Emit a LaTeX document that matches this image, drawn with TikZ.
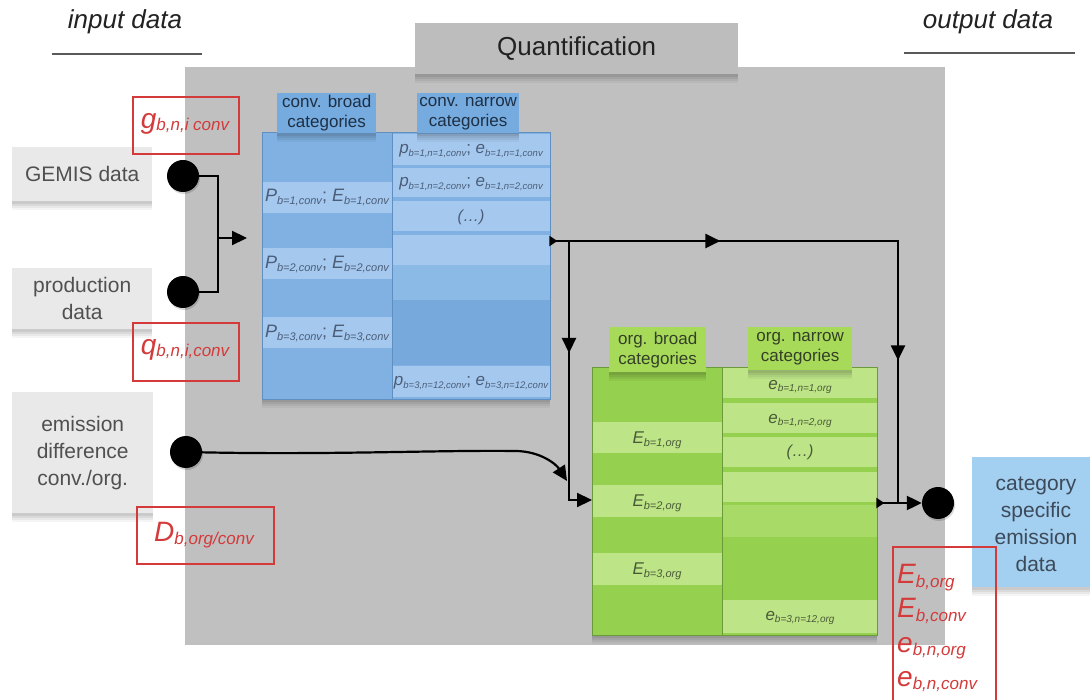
\documentclass[tikz,border=0pt]{standalone}
\usepackage{fontspec}
\setmainfont{Liberation Sans}
\usetikzlibrary{arrows.meta,decorations.markings,calc}

\definecolor{bggray}{HTML}{C0C0C0}
\definecolor{qgray}{HTML}{BDBDBD}
\definecolor{notegray}{HTML}{E9E9E9}
\definecolor{notetext}{HTML}{505050}
\definecolor{redl}{HTML}{D43A3A}
\definecolor{bluebase}{HTML}{80B1E2}
\definecolor{bluelight}{HTML}{A5C8EE}
\definecolor{bluemid}{HTML}{8CBAE6}
\definecolor{bluedark}{HTML}{78A9DC}
\definecolor{bluehead}{HTML}{75ABDF}
\definecolor{blueline}{HTML}{5F8FC0}
\definecolor{bluetext}{HTML}{4B5D78}
\definecolor{headtext}{HTML}{1F2F44}
\definecolor{greenbase}{HTML}{95D04F}
\definecolor{greenlight}{HTML}{BDE487}
\definecolor{greenmid}{HTML}{A7DA66}
\definecolor{greenhead}{HTML}{A8DA5A}
\definecolor{greenline}{HTML}{6B9A3A}
\definecolor{greentext}{HTML}{4A5A38}
\definecolor{outblue}{HTML}{A3CFF0}
\definecolor{outtext}{HTML}{3C4A5A}
\definecolor{titletext}{HTML}{222222}

% font size helper and italic symbol with subscript
\newcommand{\fsz}[2]{\fontsize{#1}{#2}\selectfont}
\newcommand{\sy}[5]{{\itshape\fsz{#1}{#1}#2\raisebox{#5}{\fsz{#3}{#3}#4}}}

\begin{document}
\begin{tikzpicture}[x=1pt,y=-1pt,
  softshadow/.style={
    preaction={fill=black,opacity=0.04,transform canvas={yshift=-9pt}},
    preaction={fill=black,opacity=0.05,transform canvas={yshift=-6.5pt}},
    preaction={fill=black,opacity=0.06,transform canvas={yshift=-4.5pt}},
    preaction={fill=black,opacity=0.07,transform canvas={yshift=-2.5pt}}},
  note/.style={fill=notegray,inner sep=0pt,anchor=north west,softshadow,
    text=notetext,align=center,font=\fsz{21}{27}},
  redbox/.style={draw=redl,line width=2pt,inner sep=0pt,anchor=north west},
  redtxt/.style={text=redl,inner sep=0pt},
  colbox/.style={inner sep=0pt,anchor=north west,softshadow},
  headlabel/.style={inner sep=0pt,anchor=north west,align=center,
    font=\fsz{17}{20},softshadow},
  dot/.style={circle,fill=black,minimum size=32pt,inner sep=0pt,
    preaction={fill=black,opacity=0.15,transform canvas={xshift=1pt,yshift=-2pt}}},
  conn/.style={line width=2.2pt,draw=black},
  endtip/.style={-{Triangle[length=15pt,width=14pt]}},
  midtip/.style={postaction={decorate},decoration={markings,
    mark=at position #1 with {\arrow{Triangle[length=15pt,width=14pt]}}}},
  twotips/.style 2 args={postaction={decorate},decoration={markings,
    mark=at position 7pt with {\arrow{Triangle[length=8pt,width=10pt]}},
    mark=at position #1 with {\arrow{Triangle[length=15pt,width=14pt]}},
    mark=at position #2 with {\arrow{Triangle[length=15pt,width=14pt]}}}},
  edgetip/.style={postaction={decorate},decoration={markings,
    mark=at position 7pt with {\arrow{Triangle[length=8pt,width=10pt]}}}},
  rule/.style={line width=1.5pt,draw=black!65}
]
\useasboundingbox (0,0) rectangle (1090,700);
\fill[white] (0,0) rectangle (1090,700);

% quantification frame
\node[fill=bggray,inner sep=0pt,anchor=north west,minimum width=760pt,minimum height=578pt]
  (frame) at (185,67) {};
\node[fill=qgray,inner sep=0pt,anchor=north west,minimum width=323pt,minimum height=51pt,
  softshadow,font=\fsz{26}{30},text=titletext] (quant) at (415,23) {Quantification};

% titles
\node[font=\fsz{26}{30}\itshape,text=titletext] (inp) at (125,22) {input data};
\draw[rule] (52,54) -- (202,54);
\node[font=\fsz{26}{30}\itshape,text=titletext] (outp) at (988,22) {output data};
\draw[rule] (904,53) -- (1075,53);

% input notes
\node[note,minimum width=140pt,minimum height=54pt] (gemis) at (12,147) {GEMIS data};
\node[note,minimum width=140pt,minimum height=61pt] (prod) at (12,268) {production\\data};
\node[note,minimum width=141pt,minimum height=121pt] (emdiff) at (12,392) {emission\\difference\\conv./org.};

% output note
\node[note,fill=outblue,text=outtext,minimum width=125pt,minimum height=130pt] (outn) at (972,457) {};
\node[text=outtext,font=\fsz{21}{27},align=center] (outt) at (1036,524) {category\\specific\\emission\\data};

% conventional columns
\node[colbox,fill=bluebase,minimum width=130pt,minimum height=267pt] (cb) at (262,132) {};
\node[colbox,fill=bluebase,minimum width=158pt,minimum height=267pt] (cn) at (392,132) {};
\foreach \a/\b in {182/213,248/279,317/348}
  \fill[bluelight] (262,\a) rectangle (392,\b);
\foreach \a/\b in {134/165,168/197,201/231,235/265,366/397}
  \fill[bluelight] (392,\a) rectangle (550,\b);
\fill[bluemid] (392,265) rectangle (550,300);
\fill[bluedark] (392,300) rectangle (550,365);
\draw[blueline,line width=0.8pt] (262,132) rectangle (550,399) (392,132) -- (392,399);

\node[text=bluetext] (cb1) at (327,198) {\sy{18}{P}{11}{b=1,conv}{-3pt}\fsz{18}{18}; \sy{18}{E}{11}{b=1,conv}{-3pt}};
\node[text=bluetext] (cb2) at (327,265) {\sy{18}{P}{11}{b=2,conv}{-3pt}\fsz{18}{18}; \sy{18}{E}{11}{b=2,conv}{-3pt}};
\node[text=bluetext] (cb3) at (327,334) {\sy{18}{P}{11}{b=3,conv}{-3pt}\fsz{18}{18}; \sy{18}{E}{11}{b=3,conv}{-3pt}};
\node[text=bluetext] (cn1) at (471,151) {\sy{17}{p}{9.5}{b=1,n=1,conv}{-2.5pt}\fsz{17}{17}; \sy{17}{e}{9.5}{b=1,n=1,conv}{-2.5pt}};
\node[text=bluetext] (cn2) at (471,184) {\sy{17}{p}{9.5}{b=1,n=2,conv}{-2.5pt}\fsz{17}{17}; \sy{17}{e}{9.5}{b=1,n=2,conv}{-2.5pt}};
\node[text=bluetext,font=\fsz{16}{16}\itshape] (cn3) at (471,217) {(\dots)};
\node[text=bluetext] (cn4) at (471,383) {\sy{17}{p}{9.5}{b=3,n=12,conv}{-2.5pt}\fsz{17}{17}; \sy{17}{e}{9.5}{b=3,n=12,conv}{-2.5pt}};

\node[headlabel,fill=bluehead,text=headtext,minimum width=99pt,minimum height=40pt] (cbh) at (277,93) {conv. broad\\categories};
\node[headlabel,fill=bluehead,text=headtext,minimum width=102pt,minimum height=40pt] (cnh) at (417,93) {conv. narrow\\categories};

% organic columns
\node[colbox,fill=greenbase,minimum width=130pt,minimum height=268pt] (gb) at (592,367) {};
\node[colbox,fill=greenbase,minimum width=155pt,minimum height=268pt] (gn) at (722,367) {};
\foreach \a/\b in {422/453,485/517,553/585}
  \fill[greenlight] (592,\a) rectangle (722,\b);
\foreach \a/\b in {368/398,403/433,437/467,472/502,600/633}
  \fill[greenlight] (722,\a) rectangle (877,\b);
\fill[greenmid] (722,505) rectangle (877,537);
\draw[greenline,line width=0.8pt] (592,367) rectangle (877,635) (722,367) -- (722,635);

\node[text=greentext] (gb1) at (657,440) {\sy{17}{E}{11}{b=1,org}{-3pt}};
\node[text=greentext] (gb2) at (657,503) {\sy{17}{E}{11}{b=2,org}{-3pt}};
\node[text=greentext] (gb3) at (657,571) {\sy{17}{E}{11}{b=3,org}{-3pt}};
\node[text=greentext] (gn1) at (800,387) {\sy{17}{e}{10}{b=1,n=1,org}{-2.5pt}};
\node[text=greentext] (gn2) at (800,421) {\sy{17}{e}{10}{b=1,n=2,org}{-2.5pt}};
\node[text=greentext,font=\fsz{16}{16}\itshape] (gn3) at (800,452) {(\dots)};
\node[text=greentext] (gn4) at (800,618) {\sy{17}{e}{10}{b=3,n=12,org}{-2.5pt}};

\node[headlabel,fill=greenhead,text=greentext!70!black,minimum width=97pt,minimum height=45pt] (gbh) at (609,327) {org. broad\\categories};
\node[headlabel,fill=greenhead,text=greentext!70!black,minimum width=104pt,minimum height=43pt] (gnh) at (748,327) {org. narrow\\categories};

% junction points
\coordinate (mrg) at (218,238);
\coordinate (br) at (569,241);
\coordinate (jr) at (898,503);
\coordinate (gin) at ($(gb.north west)+(0,133)$);
\coordinate (mer) at (567,481);

% dots
\node[dot] (d1) at (183,176) {};
\node[dot] (d2) at (183,292) {};
\node[dot] (d3) at (186,452) {};
\node[dot] (d4) at (938,503) {};

% connectors
\draw[conn] (d1) -| (mrg) |- (d2);
\draw[conn,endtip,shorten >=15pt] (mrg) -- (cb.west |- mrg);
\draw[conn,twotips={170pt}{467pt}] (cn.east |- br) -- (br) -| (jr);
\draw[conn,midtip=112pt,endtip] (br) |- (gin);
\draw[conn,endtip] (d3) .. controls (330,455) and (440,450) .. (515,451)
  .. controls (540,451) and (556,464) .. (mer);
\draw[conn,edgetip,endtip] (gn.east |- jr) -- (d4);

% red labels
\node[redbox,minimum width=106pt,minimum height=57pt] (gbox) at (132,96) {};
\node[redtxt] (gt) at (185,124) {\sy{28}{g}{17}{b,n,i conv}{-2pt}};
\node[redbox,minimum width=106pt,minimum height=58pt] (qbox) at (132,322) {};
\node[redtxt] (qt) at (185,350) {\sy{28}{q}{17}{b,n,i,conv}{-2pt}};
\node[redbox,minimum width=137pt,minimum height=57pt] (dbox) at (136,506) {};
\node[redtxt] (dt) at (204,535) {\sy{28}{D}{17}{b,org/conv}{-3pt}};
\draw[redl,line width=2pt] (893,710) -- (893,547) -- (996,547) -- (996,710);
\node[redtxt,anchor=west] (o1) at (897,578) {\sy{28}{E}{17}{b,org}{-4pt}};
\node[redtxt,anchor=west] (o2) at (897,611) {\sy{28}{E}{17}{b,conv}{-4pt}};
\node[redtxt,anchor=west] (o3) at (897,648) {\sy{28}{e}{17}{b,n,org}{-3pt}};
\node[redtxt,anchor=west] (o4) at (897,682) {\sy{28}{e}{17}{b,n,conv}{-3pt}};
\end{tikzpicture}
\end{document}
